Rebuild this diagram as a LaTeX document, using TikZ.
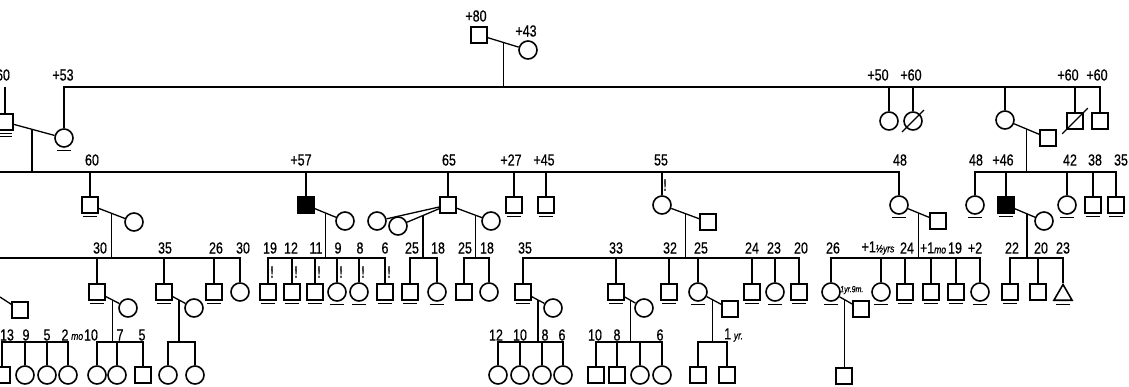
\documentclass[tikz,border=0pt]{standalone}
\usepackage{fontspec}
\newfontfamily\agefont{Liberation Sans}[FakeStretch=0.78,FakeBold=0.6]
\usetikzlibrary{calc,shapes.geometric}
\newcommand\smit[1]{{\fontsize{11}{11}\selectfont\itshape #1}}
\tikzset{male/.style={draw,line width=1.6pt,minimum size=16pt,inner sep=0pt},fem/.style={draw,circle,line width=1.6pt,minimum size=18pt,inner sep=0pt},affm/.style={male,fill=black},unk/.style={draw,regular polygon,regular polygon sides=3,line width=1.6pt,minimum size=21pt,inner sep=0pt},under/.style={append after command={([xshift=-7pt,yshift=-3pt]\tikzlastnode.south) edge[line width=1pt] ([xshift=7pt,yshift=-3pt]\tikzlastnode.south)}},under2/.style={under,append after command={([xshift=-7pt,yshift=-6pt]\tikzlastnode.south) edge[line width=1pt] ([xshift=7pt,yshift=-6pt]\tikzlastnode.south)}},slash/.style={append after command={([shift={(-4pt,-4pt)}]\tikzlastnode.south west) edge[line width=1.3pt] ([shift={(4pt,4pt)}]\tikzlastnode.north east)}},maleu/.style={male,under},femu/.style={fem,under},affmu/.style={affm,under},unku/.style={unk,under},maled/.style={male,slash},femd/.style={fem,slash},age/.style={font=\agefont\fontsize{16}{16}\selectfont,inner sep=0pt},note/.style={font=\agefont\itshape\fontsize{9}{9}\selectfont,inner sep=0pt},link/.style={line width=1.3pt}}
\begin{document}
\begin{tikzpicture}[x=1pt,y=-1pt]
\useasboundingbox (0,0) rectangle (1129,387);
\fill[white] (0,0) rectangle (1129,387);
\coordinate (y2) at (0,87);
\coordinate (y3) at (0,172);
\coordinate (y4) at (0,258);
\coordinate (y5) at (0,342);

% generation I
\node[male] (i1) at (479,35) {};
\node[fem] (i2) at (528,50) {};
\node[age] (t-i1) at (476,16) {+80};
\node[age] (t-i2) at (526,31) {+43};
\draw[link] (i1) -- (i2) coordinate[pos=.5] (u1);
\coordinate (j1) at (u1 |- y2);
\draw[link] (u1) -- (j1);

% generation II
\foreach \n/\px/\py/\s/\lb/\tx in {ii1/64/138/femu/+53/63,ii2/889/121/fem/+50/878,ii3/913/121/femd/+60/911,ii4/1005/120/fem//1005,ii5/1075/121/maled/+60/1068,ii6/1100/121/male/+60/1097}{
  \node[\s] (\n) at (\px,\py) {};
  \node[age] (t-\n) at (\tx,75) {\lb};
  \draw[link] (j1) -| (\n);
}
\node[male,under2] (ii0) at (5,122) {};
\node[age] (t-ii0) at (3,75) {60};
\coordinate (ii0t) at (ii0 |- y2);
\draw[link] (ii0t) -- (ii0);
\draw[link] (ii0) -- (ii1) coordinate[pos=.45] (u2);
\coordinate (j2) at (u2 |- y3);
\draw[link] (u2) -- (j2) -- (y3);
\node[male] (hs) at (1048,138) {};
\draw[link] (ii4) -- (hs) coordinate[pos=.5] (u15);
\coordinate (j15) at (u15 |- y3);
\draw[link] (u15) -- (j15);

% generation III
\foreach \n/\px/\s/\lb/\tx in {iii1/90/maleu/60/92,iii2/306/affm/+57/301,iii3/448/male/65/449,iii4/514/maleu/+27/511,iii5/546/maleu/+45/544,iii6/662/fem/55/661,iii7/899/femu/48/900}{
  \node[\s] (\n) at (\px,205) {};
  \node[age] (t-\n) at (\tx,160) {\lb};
  \draw[link] (j2) -| (\n);
}
\node[age] (b-iii6) at (665,185) {!};
\foreach \n/\px/\s/\lb/\tx in {r1/975/femu/48/976,r2/1006/affmu/+46/1003,r3/1067/femu/42/1070,r4/1093/maleu/38/1095,r5/1116/maleu/35/1121}{
  \node[\s] (\n) at (\px,205) {};
  \node[age] (t-\n) at (\tx,160) {\lb};
  \draw[link] (j15) -| (\n);
}
\node[fem] (w1) at (134,222) {};
\node[fem] (w2) at (345,221) {};
\node[fem] (w3a) at (377,221) {};
\node[fem] (w3b) at (398,226) {};
\node[fem] (w3c) at (491,221) {};
\node[male] (h6) at (708,222) {};
\node[male] (h7) at (938,221) {};
\node[fem] (rw) at (1044,221) {};
\draw[link] (iii1) -- (w1) coordinate[pos=.5] (u3);
\draw[link] (iii2) -- (w2) coordinate[pos=.5] (u6);
\draw[link] (iii3) -- (w3a);
\draw[link] (iii3) -- (w3b) coordinate[pos=.5] (u7);
\draw[link] (iii3) -- (w3c) coordinate[pos=.75] (u8);
\draw[link] (iii6) -- (h6) coordinate[pos=.5] (u9);
\draw[link] (iii7) -- (h7) coordinate[pos=.5] (u13);
\draw[link] (r2) -- (rw) coordinate[pos=.6] (u16);
\foreach \u/\j in {u3/j3,u6/j6,u7/j7,u8/j8,u9/j9,u13/j13,u16/j16}{
  \coordinate (\j) at (\u |- y4);
  \draw[link] (\u) -- (\j);
}
\draw[link] (j3) -- (y4);

% generation IV
\foreach \n/\px/\s/\lb/\tx/\j in {iv1/97/maleu/30/100/j3,iv2/164/maleu/35/165/j3,iv3/214/maleu/26/216/j3,iv4/240/fem/30/243/j3,q1/410/maleu/25/412/j7,q2/437/femu/18/438/j7,q3/464/male/25/465/j8,q4/489/fem/18/487/j8,m1/523/maleu/35/525/j9,m2/616/maleu/33/616/j9,m3/669/maleu/32/670/j9,m4/698/femu/25/701/j9,m5/752/maleu/24/752/j9,m6/775/femu/23/774/j9,m7/799/maleu/20/801/j9,s1/1010/maleu/22/1012/j16,s2/1038/male/20/1041/j16}{
  \node[\s] (\n) at (\px,292) {};
  \node[age] (t-\n) at (\tx,248) {\lb};
  \draw[link] (\j) -| (\n);
}
\node[unku] (s3) at (1063,295) {};
\node[age] (t-s3) at (1063,248) {23};
\draw[link] (j16) -| (s3);
\foreach \n/\px/\s/\lb/\tx in {p1/268/maleu/19/270,p2/292/maleu/12/291,p3/315/maleu/11/316,p4/337/femu/9/338,p5/359/femu/8/360,p6/385/maleu/6/385}{
  \node[\s] (\n) at (\px,292) {};
  \node[age] (t-\n) at (\tx,248) {\lb};
  \node[age] (b-\n) at (\px+4,272) {!};
  \draw[link] (j6) -| (\n);
}
\foreach \n/\px/\s/\lb/\tx in {k1/831/femu/26/833,k2/881/femu/{+1\smit{½yrs}}/878,k3/905/maleu/24/907,k4/931/maleu/{+1\smit{mo}}/933,k5/956/maleu/19/955,k6/980/femu/+2/975}{
  \node[\s] (\n) at (\px,292) {};
  \node[age] (t-\n) at (\tx,248) {\lb};
  \draw[link] (j13) -| (\n);
}
\node[note,anchor=west] (t-k1x) at (840,290) {1yr.9m.};
\node[fem] (iv1w) at (128,308) {};
\node[fem] (iv2w) at (194,308) {};
\node[fem] (m1w) at (553,308) {};
\node[fem] (m2w) at (644,308) {};
\node[male] (m4h) at (730,309) {};
\node[male] (k1h) at (861,309) {};
\node[male] (sq) at (20,310) {};
\coordinate (sqw) at (0,297);
\draw[link] (sqw) -- (sq);
\draw[link] (iv1) -- (iv1w) coordinate[pos=.5] (u4);
\draw[link] (iv2) -- (iv2w) coordinate[pos=.5] (u5);
\draw[link] (m1) -- (m1w) coordinate[pos=.5] (u10);
\draw[link] (m2) -- (m2w) coordinate[pos=.5] (u11);
\draw[link] (m4) -- (m4h) coordinate[pos=.4] (u12);
\draw[link] (k1) -- (k1h) coordinate[pos=.4] (u14);
\foreach \u/\j in {u4/j4,u5/j5,u10/j10,u11/j11,u12/j12}{
  \coordinate (\j) at (\u |- y5);
  \draw[link] (\u) -- (\j);
}
\coordinate (j0) at (35,342);

% generation V
\foreach \n/\px/\s/\lb/\tx/\j in {v1/2/male/13/7/j0,v2/25/fem/9/26/j0,v3/47/femu/5/47/j0,v4/68/femu/2/65/j0,v5/97/fem/10/91/j4,v6/117/fem/7/120/j4,v7/143/male/5/142/j4,v8/168/fem//168/j5,v9/195/fem//195/j5,n1/498/fem/12/496/j10,n2/520/fem/10/520/j10,n3/542/fem/8/545/j10,n4/563/fem/6/562/j10,n5/596/male/10/595/j11,n6/617/male/8/617/j11,n7/640/fem//640/j11,n8/662/fem/6/660/j11,n9/698/male//698/j12,n10/727/male//727/j12}{
  \node[\s] (\n) at (\px,375) {};
  \node[age] (t-\n) at (\tx,335) {\lb};
  \draw[link] (\j) -| (\n);
}
\node[age,anchor=west] (t-v4x) at (71,337) {\smit{mo}};
\node[age,anchor=west] (t-n9x) at (724,335) {1\,\smit{yr.}};
\node[male] (k1c) at (844,376) {};
\draw[link] (u14) -- (u14 |- k1c.north);
\end{tikzpicture}
\end{document}
